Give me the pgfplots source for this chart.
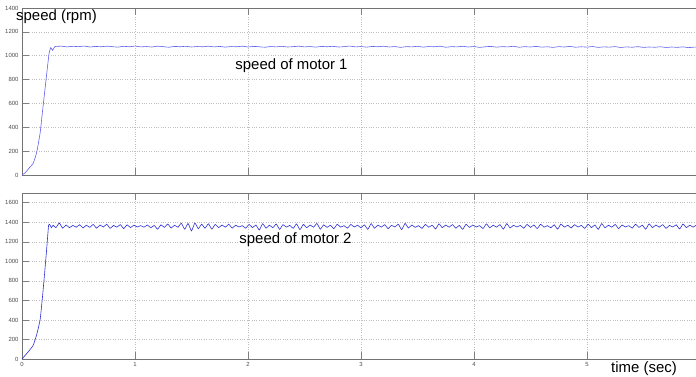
\documentclass[border=0pt]{standalone}
\usepackage{pgfplots}
\pgfplotsset{compat=1.18}
\usepackage{fontspec}
\setmainfont{Liberation Sans}
\definecolor{lineA}{RGB}{95,95,235}
\definecolor{lineB}{RGB}{45,45,215}
\pgfplotsset{
  matstyle/.style={
    scale only axis, width=674bp,
    xmin=0, xmax=5.965,
    axis x line*=box, axis y line*=left,
    y axis line style={-}, x axis line style={-},
    axis line style={draw=black!55, line width=0.8pt},
    xtick={0,1,2,3,4,5},
    tick align=inside, major tick length=7bp,
    tick style={draw=black!50, line width=0.6pt},
    xtick pos=both,
    grid=major,
    major grid style={dotted, draw=black!25, line width=0.6pt},
    ticklabel style={font=\fontsize{6}{7}\selectfont, text=black!70},
    /pgf/number format/1000 sep={},
    /pgf/number format/assume math mode=true,
    clip=true,
  }
}
\begin{document}
\begin{tikzpicture}
\useasboundingbox (0,0) rectangle (696bp,-377bp);
\begin{axis}[matstyle, height=167bp, at={(22bp,-8bp)}, anchor=north west,
  ymin=0, ymax=1400, ytick={0,200,400,600,800,1000,1200,1400},
  xticklabels={}]
\addplot[lineA, line width=0.6pt, smooth, tension=0.3] coordinates {
(0,0) (0.03,20) (0.06,55) (0.10,100) (0.13,190) (0.16,350) (0.18,520) (0.20,690) (0.22,860) (0.24,1022) (0.255,1068) (0.27,1045) (0.29,1075)
(0.30,1078) (0.35,1080) (0.40,1074) (0.45,1079) (0.50,1076) (0.55,1081) (0.60,1073) (0.65,1078) (0.70,1075) (0.75,1080)
(0.80,1076) (0.85,1072) (0.90,1079) (0.95,1075) (1.00,1081) (1.05,1074) (1.10,1077) (1.15,1073) (1.20,1080) (1.25,1076)
(1.30,1071) (1.35,1078) (1.40,1075) (1.45,1079) (1.50,1073) (1.55,1077) (1.60,1075) (1.65,1080) (1.70,1074) (1.75,1078)
(1.80,1072) (1.85,1077) (1.90,1075) (1.95,1080) (2.00,1073) (2.05,1078) (2.10,1075) (2.15,1071) (2.20,1077) (2.25,1074)
(2.30,1079) (2.35,1073) (2.40,1076) (2.45,1080) (2.50,1074) (2.55,1077) (2.60,1072) (2.65,1078) (2.70,1075) (2.75,1079)
(2.80,1073) (2.85,1076) (2.90,1081) (2.95,1074) (3.00,1077) (3.05,1072) (3.10,1078) (3.15,1075) (3.20,1080) (3.25,1073)
(3.30,1077) (3.35,1070) (3.40,1076) (3.45,1074) (3.50,1079) (3.55,1072) (3.60,1077) (3.65,1075) (3.70,1080) (3.75,1071)
(3.80,1076) (3.85,1074) (3.90,1079) (3.95,1073) (4.00,1077) (4.05,1070) (4.10,1075) (4.15,1078) (4.20,1072) (4.25,1076)
(4.30,1074) (4.35,1079) (4.40,1071) (4.45,1076) (4.50,1073) (4.55,1078) (4.60,1072) (4.65,1075) (4.70,1070) (4.75,1076)
(4.80,1073) (4.85,1078) (4.90,1071) (4.95,1075) (5.00,1072) (5.05,1077) (5.10,1070) (5.15,1074) (5.20,1072) (5.25,1076)
(5.30,1069) (5.35,1074) (5.40,1071) (5.45,1076) (5.50,1070) (5.55,1073) (5.60,1071) (5.65,1075) (5.70,1069) (5.75,1073)
(5.80,1070) (5.85,1074) (5.90,1068) (5.95,1072) (6.00,1070)
};
\end{axis}
\begin{axis}[matstyle, height=166bp, at={(22bp,-193bp)}, anchor=north west,
  ymin=0, ymax=1700, ytick={0,200,400,600,800,1000,1200,1400,1600}]
\addplot[lineB, line width=0.6pt, smooth, tension=0.3] coordinates {
(0,0) (0.03,40) (0.06,80) (0.10,143) (0.13,250) (0.16,400) (0.18,620) (0.20,876) (0.22,1150) (0.235,1365) (0.245,1378) (0.26,1345) (0.275,1370)
(0.30,1345) (0.33,1392) (0.36,1340) (0.39,1372) (0.42,1345) (0.45,1368) (0.48,1350) (0.51,1375) (0.54,1342) (0.57,1370)
(0.60,1348) (0.63,1378) (0.66,1340) (0.69,1372) (0.72,1352) (0.75,1380) (0.78,1338) (0.81,1368) (0.84,1350) (0.87,1376)
(0.90,1336) (0.93,1374) (0.96,1346) (0.99,1370) (1.02,1352) (1.05,1366) (1.08,1350) (1.11,1372) (1.14,1344) (1.17,1368)
(1.20,1330) (1.23,1374) (1.26,1348) (1.29,1382) (1.32,1342) (1.35,1370) (1.38,1350) (1.41,1390) (1.44,1330) (1.47,1388)
(1.50,1312) (1.53,1392) (1.56,1335) (1.59,1380) (1.62,1340) (1.65,1385) (1.68,1330) (1.71,1378) (1.74,1345) (1.77,1372)
(1.80,1350) (1.83,1380) (1.86,1340) (1.89,1370) (1.92,1352) (1.95,1366) (1.98,1340) (2.01,1378) (2.04,1346) (2.07,1372)
(2.10,1322) (2.13,1386) (2.16,1340) (2.19,1370) (2.22,1345) (2.25,1382) (2.28,1328) (2.31,1376) (2.34,1350) (2.37,1368)
(2.40,1338) (2.43,1384) (2.46,1325) (2.49,1378) (2.52,1345) (2.55,1372) (2.58,1350) (2.61,1388) (2.64,1330) (2.67,1374)
(2.70,1348) (2.73,1370) (2.76,1335) (2.79,1380) (2.82,1350) (2.85,1366) (2.88,1340) (2.91,1378) (2.94,1352) (2.97,1370)
(3.00,1344) (3.03,1374) (3.06,1328) (3.09,1386) (3.12,1340) (3.15,1372) (3.18,1350) (3.21,1376) (3.24,1335) (3.27,1370)
(3.30,1352) (3.33,1380) (3.36,1326) (3.39,1388) (3.42,1342) (3.45,1372) (3.48,1348) (3.51,1366) (3.54,1338) (3.57,1378)
(3.60,1350) (3.63,1370) (3.66,1332) (3.69,1384) (3.72,1345) (3.75,1372) (3.78,1350) (3.81,1376) (3.84,1340) (3.87,1368)
(3.90,1328) (3.93,1380) (3.96,1348) (3.99,1372) (4.02,1352) (4.05,1366) (4.08,1336) (4.11,1384) (4.14,1344) (4.17,1370)
(4.20,1350) (4.23,1376) (4.26,1330) (4.29,1386) (4.32,1342) (4.35,1370) (4.38,1352) (4.41,1368) (4.44,1340) (4.47,1378)
(4.50,1348) (4.53,1372) (4.56,1336) (4.59,1380) (4.62,1350) (4.65,1366) (4.68,1344) (4.71,1374) (4.74,1330) (4.77,1382)
(4.80,1350) (4.83,1370) (4.86,1342) (4.89,1376) (4.92,1352) (4.95,1368) (4.98,1338) (5.01,1380) (5.04,1346) (5.07,1372)
(5.10,1328) (5.13,1386) (5.16,1344) (5.19,1370) (5.22,1350) (5.25,1378) (5.28,1336) (5.31,1372) (5.34,1352) (5.37,1366)
(5.40,1340) (5.43,1380) (5.46,1348) (5.49,1370) (5.52,1330) (5.55,1384) (5.58,1346) (5.61,1372) (5.64,1350) (5.67,1376)
(5.70,1338) (5.73,1368) (5.76,1352) (5.79,1374) (5.82,1332) (5.85,1382) (5.88,1346) (5.91,1370) (5.94,1350) (5.97,1372)
(6.00,1340)
};
\end{axis}
\node[anchor=west, inner sep=0pt, font=\fontsize{15}{18}\selectfont] at (16bp,-17bp) {speed (rpm)};
\node[inner sep=0pt, font=\fontsize{15}{18}\selectfont] at (291.5bp,-66bp) {speed of motor 1};
\node[inner sep=0pt, font=\fontsize{15}{18}\selectfont] at (295.5bp,-240bp) {speed of motor 2};
\node[anchor=west, inner sep=0pt, font=\fontsize{15}{18}\selectfont] at (611bp,-369bp) {time (sec)};
\end{tikzpicture}
\end{document}
